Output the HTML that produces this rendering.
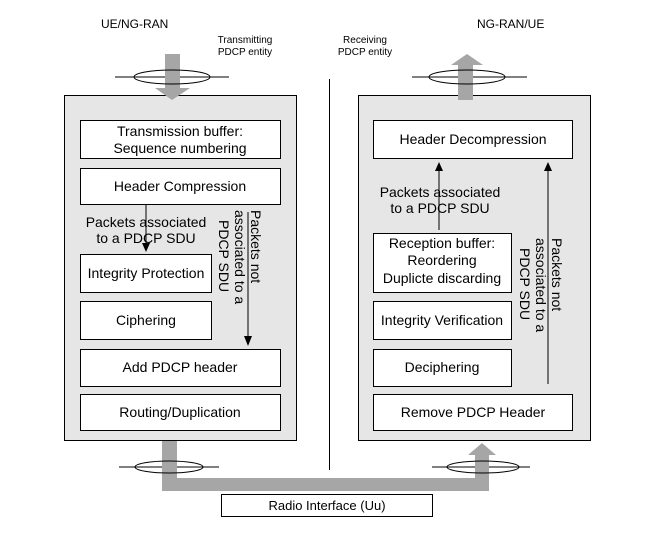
<!DOCTYPE html>
<html><head><style>body{margin:0;background:#fff}</style></head><body>
<svg width="646" height="528" viewBox="0 0 646 528" xmlns="http://www.w3.org/2000/svg" font-family="Liberation Sans, sans-serif">
<rect width="646" height="528" fill="#fff"/>
<text x="101" y="28" font-size="12">UE/NG-RAN</text>
<text x="477" y="28" font-size="12">NG-RAN/UE</text>
<text x="245" y="43" font-size="10" text-anchor="middle">Transmitting</text>
<text x="245" y="55" font-size="10" text-anchor="middle">PDCP  entity</text>
<text x="365" y="43" font-size="10" text-anchor="middle">Receiving</text>
<text x="365" y="55" font-size="10" text-anchor="middle">PDCP  entity</text>
<line x1="329.5" y1="79" x2="329.5" y2="470" stroke="#000"/>
<rect x="64.5" y="95.5" width="232" height="345" fill="#e6e6e6" stroke="#000"/>
<rect x="358.5" y="95.5" width="232" height="345" fill="#e6e6e6" stroke="#000"/>
<!-- top arrows -->
<line x1="115" y1="77" x2="229" y2="77" stroke="#000"/>
<line x1="412" y1="77" x2="527" y2="77" stroke="#000"/>
<polygon points="165,54 180,54 180,88 190,88 172,100 155,88 165,88" fill="#a6a6a6"/>
<polygon points="458,100 473,100 473,65 483,65 467,54 451,65 458,65" fill="#a6a6a6"/>
<ellipse cx="172" cy="77" rx="38" ry="7" fill="none" stroke="#000"/>
<ellipse cx="467" cy="77" rx="38" ry="7" fill="none" stroke="#000"/>
<!-- bottom -->
<line x1="119" y1="467" x2="219" y2="467" stroke="#000"/>
<line x1="432" y1="467" x2="530" y2="467" stroke="#000"/>
<polygon points="162,441 177,441 177,478 475,478 475,455 468,455 482,443 496,455 489,455 489,491 162,491" fill="#a6a6a6"/>
<ellipse cx="169" cy="467" rx="34" ry="6" fill="none" stroke="#000"/>
<ellipse cx="483" cy="467" rx="36" ry="6" fill="none" stroke="#000"/>
<rect x="221.5" y="494.5" width="211" height="22" fill="#fff" stroke="#000"/>
<text x="327" y="510" font-size="13" text-anchor="middle">Radio Interface (Uu)</text>
<g fill="#fff" stroke="#000">
<rect x="80.5" y="120.5" width="200" height="38"/>
<rect x="80.5" y="168.5" width="200" height="36"/>
<rect x="80.5" y="254.5" width="131" height="38"/>
<rect x="80.5" y="301.5" width="131" height="38"/>
<rect x="80.5" y="349.5" width="200" height="37"/>
<rect x="80.5" y="394.5" width="200" height="36"/>
<rect x="373.5" y="120.5" width="199" height="38"/>
<rect x="373.5" y="233.5" width="138" height="59"/>
<rect x="373.5" y="301.5" width="138" height="38"/>
<rect x="373.5" y="349.5" width="138" height="37"/>
<rect x="373.5" y="394.5" width="199" height="36"/>
</g>
<g font-size="14" text-anchor="middle">
<text x="180" y="136">Transmission buffer:</text>
<text x="180" y="153">Sequence numbering</text>
<text x="180" y="191">Header Compression</text>
<text x="146" y="278">Integrity Protection</text>
<text x="146" y="325">Ciphering</text>
<text x="180" y="372">Add PDCP header</text>
<text x="180" y="417">Routing/Duplication</text>
<text x="473" y="144">Header Decompression</text>
<text x="442" y="248">Reception buffer:</text>
<text x="442" y="265">Reordering</text>
<text x="442" y="283">Duplicte discarding</text>
<text x="442" y="325">Integrity Verification</text>
<text x="442" y="372">Deciphering</text>
<text x="473" y="417">Remove PDCP Header</text>
<text x="146" y="227">Packets associated</text>
<text x="146" y="243">to a PDCP SDU</text>
<text x="440" y="197">Packets associated</text>
<text x="440" y="213">to a PDCP SDU</text>
</g>
<g font-size="14">
<text transform="translate(251,210) rotate(90)">Packets not</text>
<text transform="translate(235,210) rotate(90)">associated to a</text>
<text transform="translate(219,220) rotate(90)">PDCP SDU</text>
<text transform="translate(552,238) rotate(90)">Packets not</text>
<text transform="translate(536,238) rotate(90)">associated to a</text>
<text transform="translate(520,248) rotate(90)">PDCP SDU</text>
</g>
<g stroke="#000">
<line x1="146" y1="204" x2="146" y2="244"/>
<line x1="248" y1="212" x2="248" y2="337"/>
<line x1="439" y1="230" x2="439" y2="170"/>
<line x1="548" y1="384" x2="548" y2="170"/>
</g>
<g fill="#000">
<polygon points="142,243 150,243 146,252"/>
<polygon points="244,336 252,336 248,346"/>
<polygon points="435,171 443,171 439,162"/>
<polygon points="544,171 552,171 548,162"/>
</g>
</svg>
</body></html>
